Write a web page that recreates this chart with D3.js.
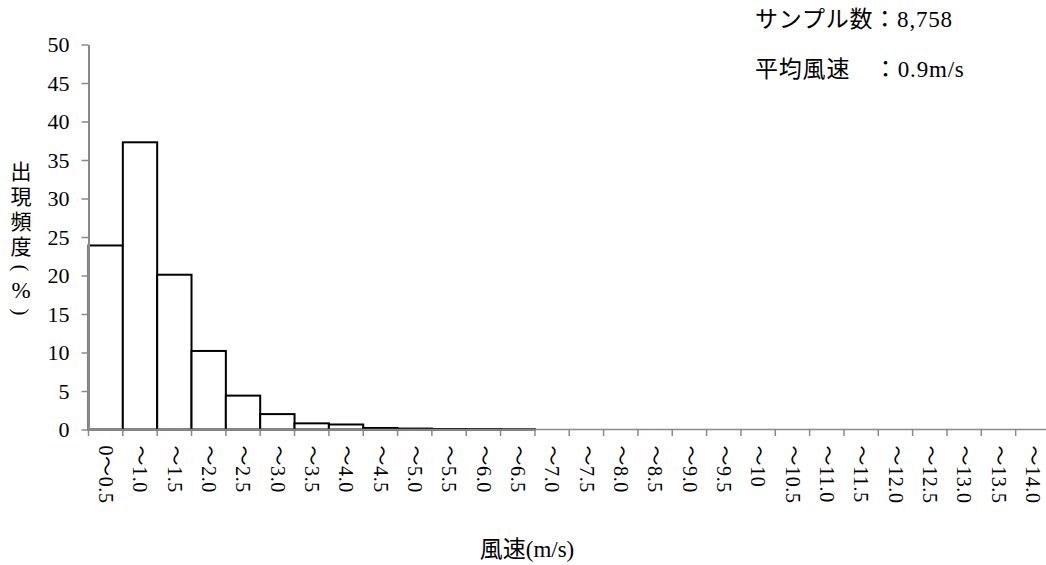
<!DOCTYPE html>
<html><head><meta charset="utf-8">
<script src="https://cdn.jsdelivr.net/npm/d3@7"></script>
<style>
html,body{margin:0;padding:0;background:#fff;}
svg{display:block;}
text{font-family:"Liberation Serif","Noto Sans CJK JP",serif;fill:#000;}
</style></head>
<body>
<svg id="chart" width="1046" height="565"></svg>
<script>
const categories = ["0～0.5","～1.0","～1.5","～2.0","～2.5","～3.0","～3.5","～4.0","～4.5","～5.0","～5.5","～6.0","～6.5","～7.0","～7.5","～8.0","～8.5","～9.0","～9.5","～10","～10.5","～11.0","～11.5","～12.0","～12.5","～13.0","～13.5","～14.0"];
const frequency = [23.9, 37.3, 20.1, 10.2, 4.4, 2.0, 0.8, 0.65, 0.2, 0.12, 0.06, 0.05, 0.03, 0, 0, 0, 0, 0, 0, 0, 0, 0, 0, 0, 0, 0, 0, 0];
const yTicks = [0, 5, 10, 15, 20, 25, 30, 35, 40, 45, 50];
const yTitleMain = "出現頻度";
const yTitleUnit = ["(", "%", ")"];
const xTitle = "風速(m/s)";
const notes = ["サンプル数：8,758", "平均風速　：0.9m/s"];

const svg = d3.select("#chart");
const axisColor = "#898989";

const x = d3.scaleBand().domain(categories).range([88.5, 1050]).padding(0);
const y = d3.scaleLinear().domain([0, 50]).range([429.5, 44.5]);

// bars
svg.append("g").selectAll("rect")
  .data(categories.map((c, i) => ({c, v: frequency[i]})).filter(d => d.v > 0))
  .join("rect")
  .attr("x", d => x(d.c))
  .attr("width", x.bandwidth())
  .attr("y", d => y(d.v))
  .attr("height", d => y(0) - y(d.v))
  .attr("fill", "#fff")
  .attr("stroke", "#000")
  .attr("stroke-width", 2);

// x axis
const xAxis = svg.append("g").attr("transform", `translate(0,${y(0)})`);
xAxis.append("line").attr("x1", 88.5).attr("x2", 1046).attr("y1", 0).attr("y2", 0)
  .attr("stroke", axisColor).attr("stroke-width", 1.5);
xAxis.selectAll("line.tick").data(categories).join("line").attr("class", "tick")
  .attr("x1", d => x(d)).attr("x2", d => x(d)).attr("y1", 0).attr("y2", 6.5)
  .attr("stroke", axisColor).attr("stroke-width", 1.5);
xAxis.selectAll("text").data(categories).join("text")
  .attr("transform", d => `translate(${x(d) + x.bandwidth() / 2},16) rotate(90)`)
  .attr("dy", "0.34em")
  .attr("text-anchor", "start")
  .style("font-size", "20px")
  .style("letter-spacing", "0.6px")
  .text(d => d);

// y axis
const yAxis = d3.axisLeft(y).tickValues(yTicks).tickSize(7).tickPadding(12).tickSizeOuter(0);
const gy = svg.append("g").attr("transform", "translate(88.5,0)").call(yAxis);
gy.select(".domain").attr("stroke", axisColor).attr("stroke-width", 2);
gy.selectAll(".tick line").attr("stroke", axisColor).attr("stroke-width", 1.5);
gy.selectAll(".tick text").style("font-size", "22px").style("font-family", '"Liberation Serif", serif').attr("fill", "#000");

// y title: vertical CJK run, then the unit with sideways parentheses
svg.append("text")
  .attr("x", 21).attr("y", 160.5)
  .attr("text-anchor", "start")
  .style("writing-mode", "vertical-rl")
  .style("font-family", '"Noto Sans CJK JP", sans-serif')
  .style("font-size", "21px")
  .style("letter-spacing", "4px")
  .text(yTitleMain);
const unitPos = [268, 290, 312];
svg.append("g").selectAll("text").data(yTitleUnit).join("text")
  .attr("transform", (d, i) => `translate(21,${unitPos[i]})` + (d === "%" ? "" : " rotate(90)"))
  .attr("text-anchor", "middle")
  .attr("dominant-baseline", "central")
  .style("font-family", '"Liberation Serif", serif')
  .style("font-size", d => d === "%" ? "23px" : "21px")
  .text(d => d);

// x title
svg.append("text").attr("x", 527).attr("y", 557).attr("text-anchor", "middle")
  .style("font-size", "23px").text(xTitle);

// notes
svg.append("g").selectAll("text").data(notes).join("text")
  .attr("x", 755).attr("y", (d, i) => 27 + i * 50)
  .style("font-size", "23px")
  .style("letter-spacing", "0.8px")
  .text(d => d);
</script>
</body></html>
